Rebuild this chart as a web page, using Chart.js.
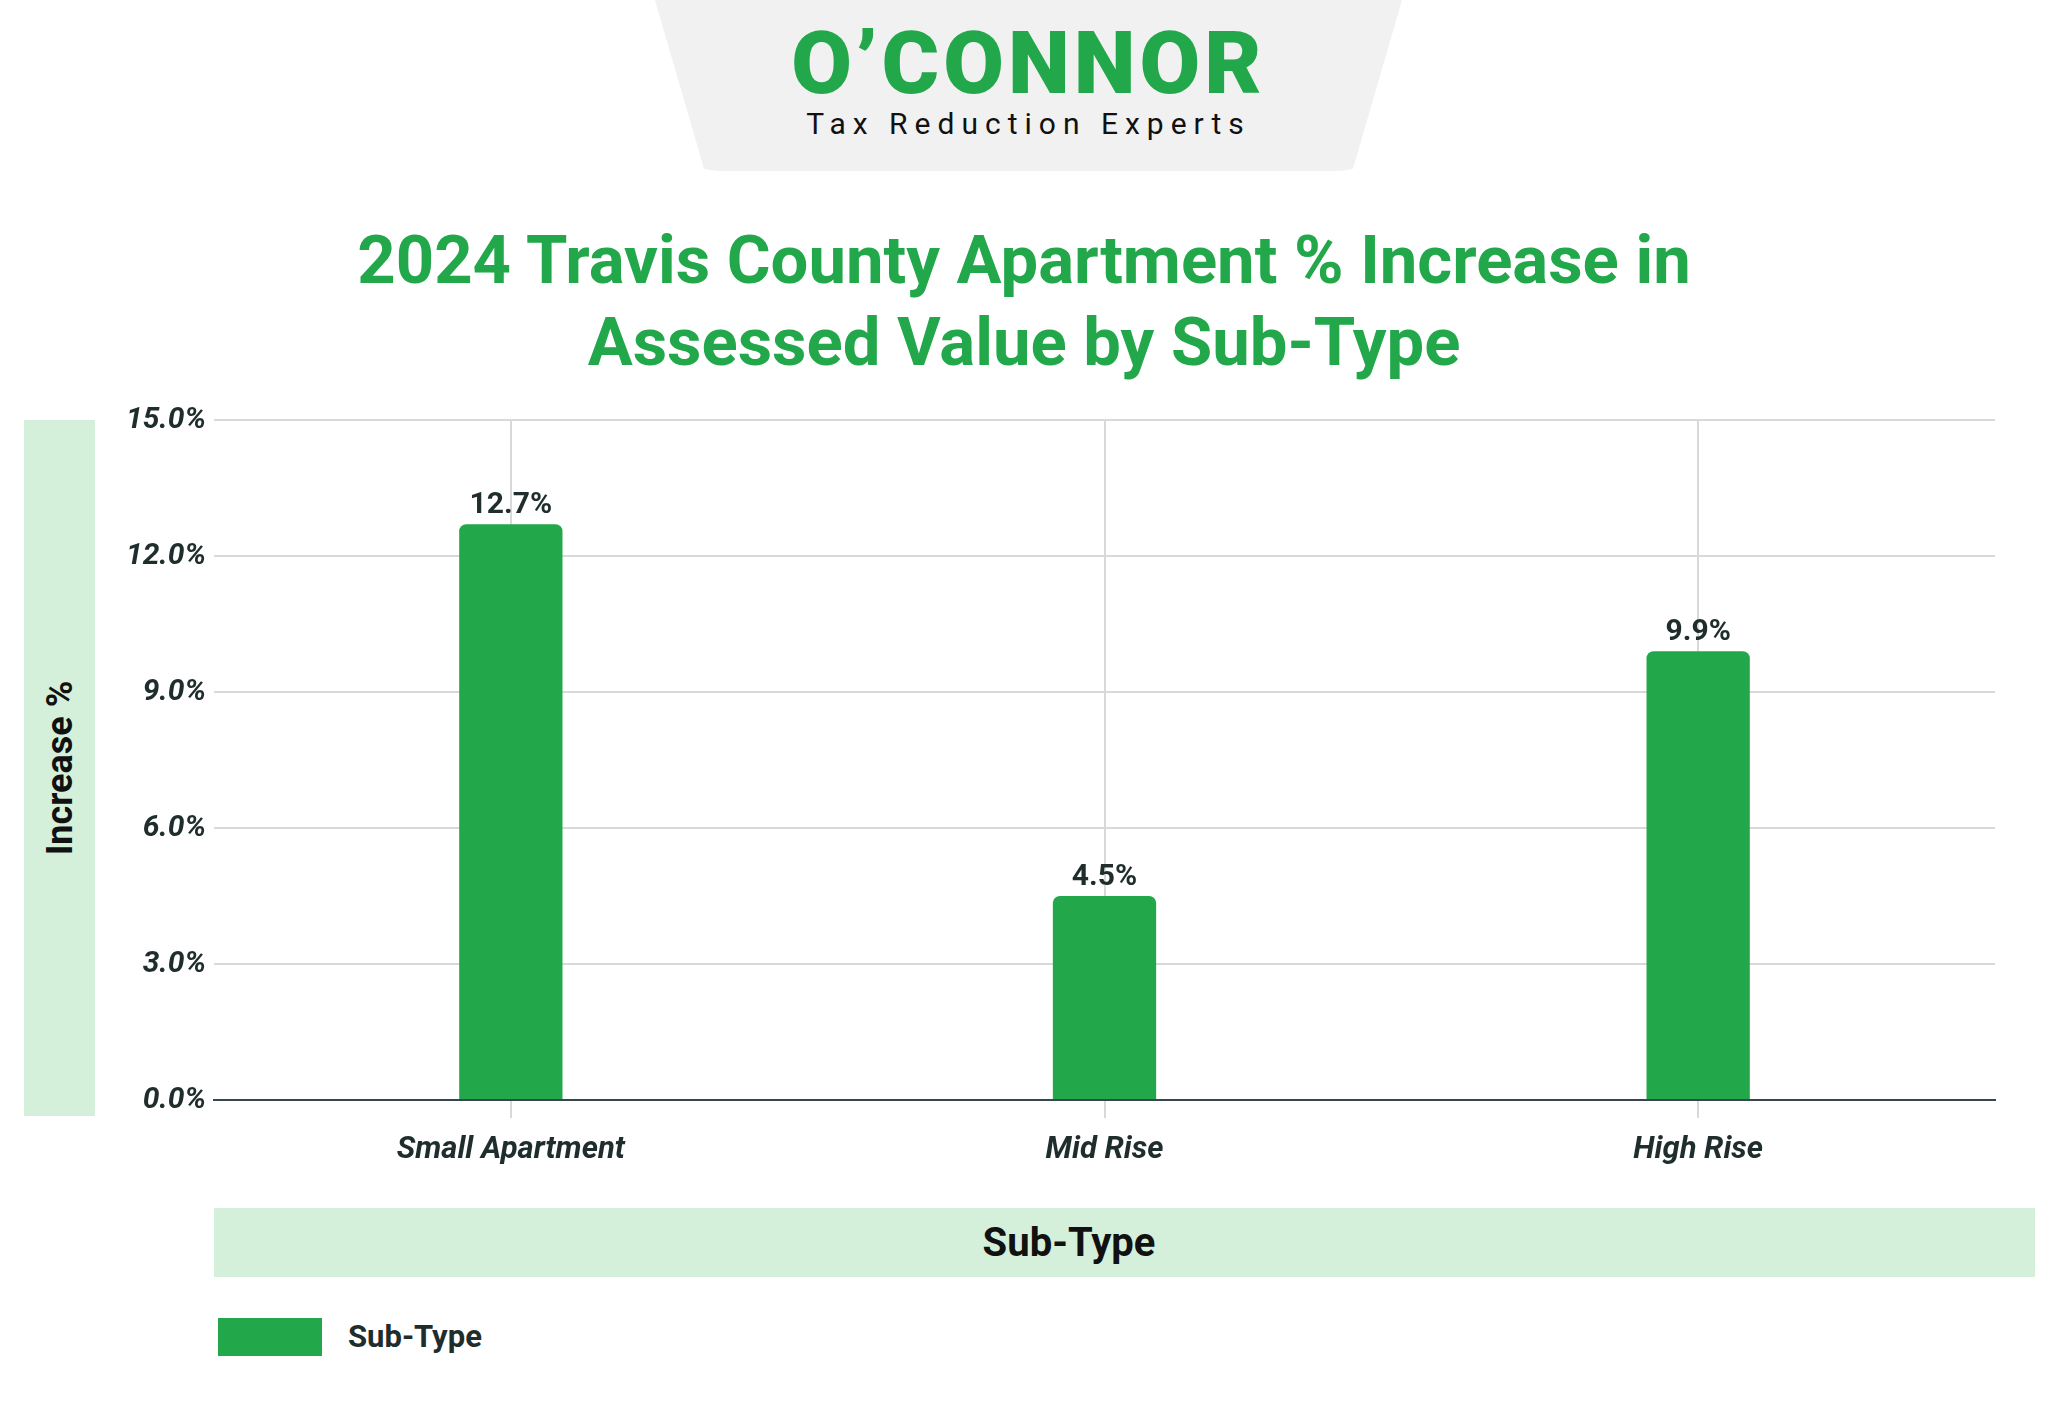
<!DOCTYPE html>
<html><head><meta charset="utf-8">
<script src="https://cdn.jsdelivr.net/npm/chart.js@4.4.1/dist/chart.umd.min.js"></script>
<style>
html,body{margin:0;padding:0;background:#fff;width:2048px;height:1408px;overflow:hidden;font-family:Roboto,sans-serif}
.abs{position:absolute}
#logo{left:652px;top:-10px;width:753px;height:181px;background:#f1f1f1;border-radius:0 0 70px 70px;clip-path:polygon(0 0,100% 0,93% 100%,7% 100%)}
#title{left:0;width:2048px;top:219px;text-align:center;color:#22a84a;font-weight:700;font-size:67px;line-height:82px}
#ybox{left:24px;top:420px;width:71px;height:696px;background:#d4f0da}
#ytitle{left:60px;top:768px;transform:translate(-50%,-50%) rotate(-90deg);font-weight:700;font-size:36px;color:#111;white-space:nowrap}
#xbox{left:214px;top:1208px;width:1821px;height:69px;background:#d4f0da;line-height:69px;font-weight:700;font-size:40px;color:#111}
#xbox span{position:absolute;left:855px;transform:translateX(-50%);white-space:nowrap}
#leg{left:218px;top:1318px;width:104px;height:38px;background:#22a84a}
#legt{left:348px;top:1318px;line-height:38px;font-weight:700;font-size:31px;color:#1f2d2d}
canvas{position:absolute;left:0;top:0}
</style></head><body>
<div id="logo" class="abs"></div>
<div class="abs" style="left:652px;top:18px;width:753px;text-align:center;color:#22a84a;font-weight:900;font-size:88px;line-height:90px;letter-spacing:4px">O’CONNOR</div>
<div class="abs" style="left:652px;top:106px;width:753px;text-align:center;color:#111;font-size:30px;letter-spacing:7px">Tax Reduction Experts</div>
<div id="title" class="abs">2024 Travis County Apartment % Increase in<br>Assessed Value by Sub-Type</div>
<div id="ybox" class="abs"></div>
<div id="ytitle" class="abs">Increase %</div>
<div id="xbox" class="abs"><span>Sub-Type</span></div>
<div id="leg" class="abs"></div>
<div id="legt" class="abs">Sub-Type</div>
<canvas id="c" width="2048" height="1408"></canvas>
<script>
const categories = ["Small Apartment", "Mid Rise", "High Rise"];
const values = [12.7, 4.5, 9.9];
const seriesName = "Sub-Type";

const labelPlugin = {
  id: 'lbl',
  afterDatasetsDraw(chart) {
    const ctx = chart.ctx;
    const meta = chart.getDatasetMeta(0);
    ctx.save();
    ctx.font = 'bold 30px Roboto';
    ctx.fillStyle = '#1f2d2d';
    ctx.textAlign = 'center';
    ctx.textBaseline = 'bottom';
    meta.data.forEach((b, i) => ctx.fillText(values[i].toFixed(1) + '%', b.x, b.y - 4));
    ctx.restore();
  }
};

new Chart(document.getElementById('c'), {
  type: 'bar',
  data: { labels: categories, datasets: [{ label: seriesName, data: values, backgroundColor: '#22a84a',
    borderRadius: { topLeft: 7, topRight: 7 }, borderSkipped: 'bottom', barPercentage: 0.174, categoryPercentage: 1 }] },
  options: {
    responsive: false, animation: false, devicePixelRatio: 1,
    layout: { padding: { left: 0, right: 53, top: 420, bottom: 0 } },
    plugins: { legend: { display: false }, tooltip: { enabled: false } },
    scales: {
      y: { min: 0, max: 15, afterFit(s) { s.width = 214; },
        ticks: { stepSize: 3, callback: v => v.toFixed(1) + '%', font: { size: 30, weight: 'bold', style: 'italic', family: 'Roboto' }, color: '#1f2d2d', padding: 8 },
        grid: { color: '#d9d9d9', lineWidth: 2, drawTicks: false }, border: { display: false } },
      x: { afterFit(s) { s.height = 308; },
        ticks: { font: { size: 31, weight: 'bold', style: 'italic', family: 'Roboto' }, color: '#1f2d2d', padding: 14 },
        grid: { offset: false, color: '#d9d9d9', lineWidth: 2, tickLength: 18 },
        border: { color: '#37474f', width: 2 } }
    }
  },
  plugins: [labelPlugin]
});
</script>
</body></html>
